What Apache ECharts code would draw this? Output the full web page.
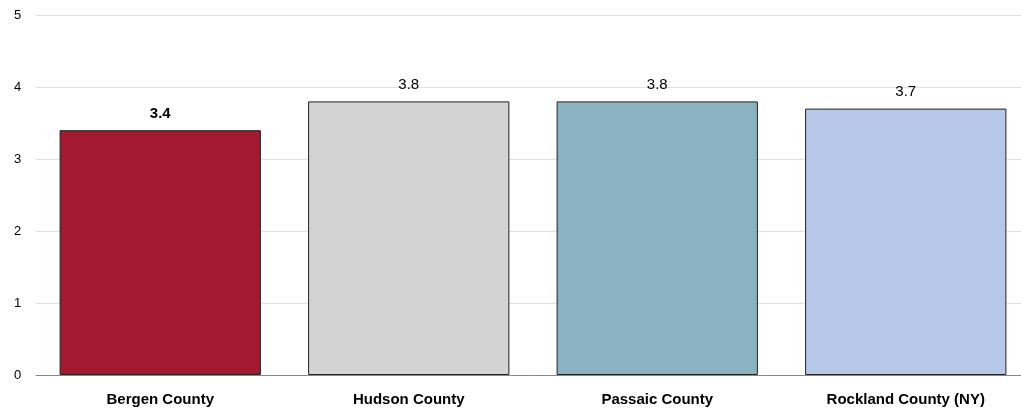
<!DOCTYPE html>
<html><head><meta charset="utf-8">
<script src="https://cdn.jsdelivr.net/npm/echarts@6/dist/echarts.min.js"></script>
<style>html,body{margin:0;padding:0;background:#fff;overflow:hidden}#c{width:1030px;height:410px}</style>
</head><body><div id="c"></div>
<script>
const categories = ["Bergen County", "Hudson County", "Passaic County", "Rockland County (NY)"];
const values = [3.4, 3.8, 3.8, 3.7];
const colors = ["#A3192F", "#D3D3D3", "#8BB2C1", "#B7C7E8"];
const yTicks = [0, 1, 2, 3, 4, 5];
const FONT = "'Liberation Sans Narrow', 'Arial Narrow', 'Liberation Sans', Arial, sans-serif";
const chart = echarts.init(document.getElementById('c'));
chart.setOption({
  animation: false,
  grid: { left: 36, top: 15, right: 0, bottom: 35 },
  xAxis: {
    type: 'category', data: categories,
    axisLine: { lineStyle: { color: '#888', width: 1 } },
    axisTick: { show: false },
    axisLabel: { color: '#000', fontFamily: FONT, fontWeight: 'bold', fontSize: 15, margin: 17 }
  },
  yAxis: {
    type: 'value', min: yTicks[0], max: yTicks[yTicks.length-1], interval: 1,
    axisLine: { show: false }, axisTick: { show: false },
    splitLine: { lineStyle: { color: '#e0e0e0', width: 1 } },
    axisLabel: { color: '#000', fontFamily: FONT, fontSize: 13, margin: 22, align: 'left' }
  },
  series: [{
    type: 'bar', barWidth: '81%',
    data: values.map((v, i) => ({
      value: v,
      itemStyle: { color: colors[i], borderColor: '#222', borderWidth: 1 },
      label: { fontWeight: i === 0 ? 'bold' : 'normal' }
    })),
    label: { show: true, position: 'top', color: '#000', fontFamily: FONT, fontSize: 15, distance: 9,
      formatter: p => p.value.toFixed(1) }
  }]
});
</script></body></html>
